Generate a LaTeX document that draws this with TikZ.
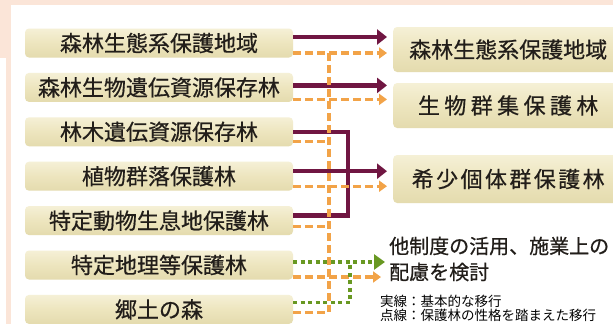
\documentclass[tikz,border=0pt]{standalone}
\usepackage{fontspec}
\setmainfont{Noto Sans CJK JP}[FakeBold=0.6]
\newfontfamily\jpwide{Noto Sans CJK JP}[LetterSpace=20, FakeBold=0.6]
\newfontfamily\jpmid{Noto Sans CJK JP}[LetterSpace=11, FakeBold=0.6]
\newfontfamily\jpplain{Noto Sans CJK JP}
\usetikzlibrary{
    arrows.meta,
    calc,
    positioning
}

\definecolor{peach}{RGB}{251,229,216}
\definecolor{boxtop}{RGB}{245,240,214}
\definecolor{boxmid}{RGB}{237,229,190}
\definecolor{boxbot}{RGB}{228,219,174}
\definecolor{maroon}{RGB}{112,22,66}
\definecolor{lineorange}{RGB}{242,163,72}
\definecolor{linegreen}{RGB}{104,152,34}
\definecolor{inkgray}{RGB}{34,30,26}

\begin{document}
\begin{tikzpicture}[
    x=1pt, y=-1pt,
    boxnode/.style = {rectangle, rounded corners=4pt,
                      top color=boxtop, bottom color=boxbot, middle color=boxmid,
                      inner sep=0pt, text=inkgray,
                      font=\fontsize{22}{22}\selectfont},
    leftbox/.style = {boxnode, minimum width=268pt, minimum height=29pt},
    rightbox/.style = {boxnode, minimum width=230pt, minimum height=45pt},
    basicline/.style = {draw=maroon, line width=4.4pt},
    basicarrow/.style = {basicline, shorten >=6pt, -{Triangle[length=10pt,width=15pt]}},
    altline/.style = {draw=lineorange, line width=3.2pt, dash pattern=on 8pt off 4pt},
    altarrow/.style = {altline, shorten >=6pt, -{Triangle[length=8pt,width=11pt]}},
    otherline/.style = {draw=linegreen, line width=3.8pt, dash pattern=on 4pt off 3.5pt},
    otherarrow/.style = {otherline, -{Triangle[length=11pt,width=15pt]}},
    node distance=15pt
]
    \clip (0,0) rectangle (613,324);
    \fill[peach] (0,0) rectangle (613,324);
    \fill[white] (11,5) rectangle (613,324);
    \fill[white] (0,58) rectangle (6,324);

    % current forests (left)
    \node[leftbox] (seitai) at (159,43) {森林生態系保護地域};
    \node[leftbox] (ishiden) [below=of seitai] {森林生物遺伝資源保存林};
    \node[leftbox] (rinboku) [below=of ishiden] {林木遺伝資源保存林};
    \node[leftbox] (shokubutsu) [below=of rinboku] {植物群落保護林};
    \node[leftbox] (doubutsu) [below=of shokubutsu] {特定動物生息地保護林};
    \node[leftbox] (chiri) [below=of doubutsu] {特定地理等保護林};
    \node[leftbox] (kyodo) [below=of chiri] {郷土の森};

    % new categories (right)
    \node[rightbox, anchor=west] (seitaiR) at (393,49.5) {森林生態系保護地域};
    \node[rightbox, anchor=west] (gunshu) at (393,105.5) {\jpwide 生物群集保護林};
    \node[rightbox, anchor=west, minimum height=48pt] (kisho) at (393,179) {\jpmid 希少個体群保護林};
    \node[anchor=west, inner sep=0pt, align=left, text=inkgray,
          font=\fontsize{20}{26}\selectfont] (tasei) at (389,259)
          {他制度の活用、施業上の\\配慮を検討};
    \node[anchor=west, inner sep=0pt, align=left, text=black,
          font=\jpplain\fontsize{13.5}{14.5}\selectfont] (legend) at (380,308.5)
          {実線：基本的な移行\\点線：保護林の性格を踏まえた移行};

    \coordinate (trunk) at (329,0);
    \coordinate (loop) at (348,0);
    \coordinate (gjoin) at (350,0);

    \coordinate (a1) at ([yshift=6pt]seitai.east);
    \coordinate (a2) at ([yshift=2pt]ishiden.east);
    \coordinate (a3) at ([yshift=0pt]rinboku.east);
    \coordinate (a4) at ([yshift=5pt]shokubutsu.east);
    \coordinate (a5) at ([yshift=5pt]doubutsu.east);
    \coordinate (b1) at ([yshift=-10pt]seitai.east);
    \coordinate (b2) at ([yshift=-12pt]ishiden.east);
    \coordinate (b3) at ([yshift=-10pt]rinboku.east);
    \coordinate (b4) at ([yshift=-10pt]shokubutsu.east);
    \coordinate (b5) at ([yshift=-6pt]doubutsu.east);
    \coordinate (b6) at ([yshift=-12pt]chiri.east);
    \coordinate (b7) at ([yshift=-3pt]kyodo.east);
    \coordinate (g6) at ([yshift=3pt]chiri.east);
    \coordinate (g7) at ([yshift=7pt]kyodo.east);

    % solid: basic transition
    \draw[basicarrow] (a1) -- (a1 -| seitaiR.west);
    \draw[basicarrow] (a2) -- (a2 -| gunshu.west);
    \draw[basicline, line join=miter] (a3) -| (a5 -| loop) -- (a5);
    \draw[basicarrow] (a4) -- (a4 -| kisho.west);

    % dashed: transition by character
    \draw[altline] (b1 -| trunk) -- (b7 -| trunk);
    \draw[altarrow] (b1) -- (b1 -| seitaiR.west);
    \draw[altarrow] (b2) -- (b2 -| gunshu.west);
    \draw[altline] (b3) -- (b3 -| trunk);
    \draw[altarrow] (b4) -- (b4 -| kisho.west);
    \draw[altline] (b5) -- (b5 -| trunk);
    \draw[altarrow, shorten >=8pt] (b6) -- (b6 -| tasei.west);
    \draw[altline] (b7) -- (b7 -| trunk);

    % dotted: other systems
    \draw[otherarrow, shorten >=4pt] (g6) -- (g6 -| tasei.west);
    \draw[otherline] (g7) -| (g6 -| gjoin);

\end{tikzpicture}
\end{document}
